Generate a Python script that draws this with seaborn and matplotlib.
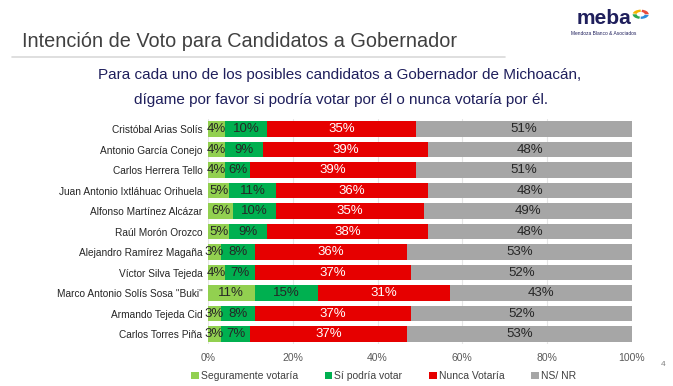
import matplotlib
matplotlib.use("Agg")
import matplotlib.pyplot as plt
import seaborn as sns
import pandas as pd
import numpy as np
from matplotlib.patches import Patch, Wedge

candidates = [
    "Cristóbal Arias Solís",
    "Antonio García Conejo",
    "Carlos Herrera Tello",
    "Juan Antonio Ixtláhuac Orihuela",
    "Alfonso Martínez Alcázar",
    "Raúl Morón Orozco",
    "Alejandro Ramírez Magaña",
    "Víctor Silva Tejeda",
    "Marco Antonio Solís Sosa \"Buki\"",
    "Armando Tejeda Cid",
    "Carlos Torres Piña",
]
seguramente = [4, 4, 4, 5, 6, 5, 3, 4, 11, 3, 3]
si_podria = [10, 9, 6, 11, 10, 9, 8, 7, 15, 8, 7]
nunca = [35, 39, 39, 36, 35, 38, 36, 37, 31, 37, 37]
ns_nr = [51, 48, 51, 48, 49, 48, 53, 52, 43, 52, 53]
series_names = ["Seguramente votaría", "Sí podría votar", "Nunca Votaría", "NS/ NR"]
colors = ["#92D050", "#00B050", "#E60000", "#A6A6A6"]
text_colors = ["#262626", "#262626", "white", "#262626"]
xticks = [0, 20, 40, 60, 80, 100]

sns.set_theme(style="white")
plt.rcParams['font.family'] = ['Liberation Sans', 'DejaVu Sans']

fig = plt.figure(figsize=(6.73, 3.86), dpi=100)
ax = fig.add_axes([0.309, 0.108, 0.630, 0.584])

vals = np.array([seguramente, si_podria, nunca, ns_nr], dtype=float)
cum = np.cumsum(vals, axis=0)
df = pd.DataFrame({"cand": candidates})
for i in range(4):
    df[f"c{i}"] = cum[i]

for i in range(3, -1, -1):
    sns.barplot(data=df, x=f"c{i}", y="cand", color=colors[i], orient="h",
                width=0.75, ax=ax, saturation=1, edgecolor="none", linewidth=0)

for i in range(4):
    for j in range(len(candidates)):
        left = cum[i][j] - vals[i][j]
        ax.text(left + vals[i][j] / 2, j, f"{int(vals[i][j])}%", ha="center", va="center",
                fontsize=9.5, color=text_colors[i])

ax.set_xlim(0, 100)
ax.set_ylim(len(candidates) - 0.5, -0.5)
ax.set_xticks(xticks)
ax.set_xticklabels([f"{t}%" for t in xticks], fontsize=7.5, color="#595959")
ax.tick_params(axis="y", labelsize=7.3, labelcolor="#262626", length=0, pad=4)
ax.tick_params(axis="x", length=0, pad=6)
ax.set_xlabel("")
ax.set_ylabel("")
for s in ax.spines.values():
    s.set_visible(False)
ax.xaxis.grid(True, color="#E6E6E6", linewidth=0.8)
ax.set_axisbelow(True)

handles = [Patch(facecolor=c, edgecolor="none") for c in colors]
fig.legend(handles, series_names, loc="center", bbox_to_anchor=(0.57, 0.025), ncol=4,
           frameon=False, fontsize=7.5, handlelength=0.7, handleheight=0.7,
           handletextpad=0.2, columnspacing=2.6, labelcolor="#404040")

fig.text(0.033, 0.893, "Intención de Voto para Candidatos a Gobernador", fontsize=14.3,
         color="#404040", va="center", ha="left")
fig.add_artist(plt.Line2D([0.018, 0.75], [0.852, 0.852], color="#D9D9D9", linewidth=1.2,
                          transform=fig.transFigure))
fig.text(0.505, 0.805, "Para cada uno de los posibles candidatos a Gobernador de Michoacán,",
         fontsize=11, color="#1F1F5C", ha="center", va="center")
fig.text(0.507, 0.74, "dígame por favor si podría votar por él o nunca votaría por él.",
         fontsize=11, color="#1F1F5C", ha="center", va="center")
fig.text(0.897, 0.952, "meba", fontsize=15, fontweight="bold", color="#1F1F5C",
         ha="center", va="center")
fig.text(0.897, 0.912, "Mendoza Blanco & Asociados", fontsize=3.5, color="#1F1F5C",
         ha="center", va="center")
# small colourful logo mark
lx, ly, r = 0.952, 0.963, 0.012
for k, c in enumerate(["#E84C3D", "#F5B400", "#2FA84F", "#2D8CDB"]):
    fig.add_artist(Wedge((lx, ly), r, 90 * k, 90 * k + 80, width=r * 0.5, facecolor=c,
                         edgecolor="none", transform=fig.transFigure))
fig.text(0.985, 0.055, "4", fontsize=6, color="#808080", ha="center", va="center")

fig.savefig("out.png", dpi=100)
